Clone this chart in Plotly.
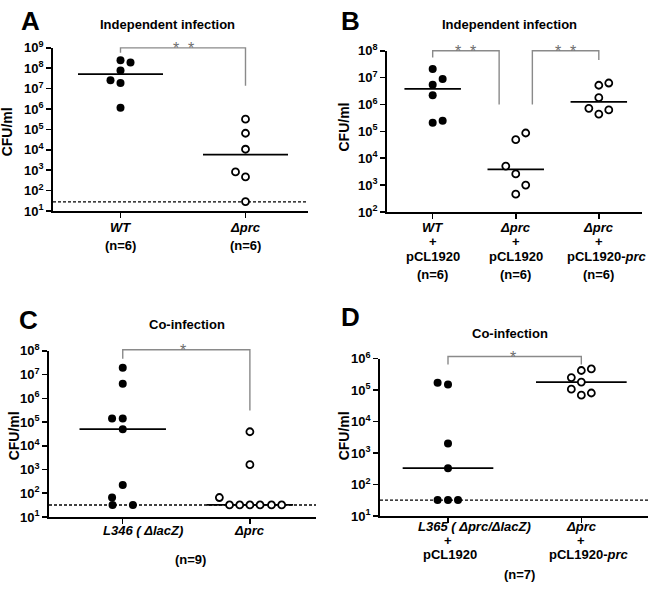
import numpy as np
import plotly.graph_objects as go

W, H = 650, 591
FONT = "Liberation Sans, Arial, sans-serif"

# ---------------- data ----------------
# Panel A - independent infection
a_labels = [["<i>WT</i>", "(n=6)"], ["<i>Δprc</i>", "(n=6)"]]
a_wt = [2.5e8, 1.9e8, 7.8e7, 2.6e7, 1.9e7, 1.15e6]
a_wt_jitter = [0, 0.08, 0, -0.08, 0, 0]
a_prc = [3.2e5, 6.5e4, 1.07e4, 830, 470, 29]
a_prc_jitter = [0, 0, 0, -0.08, 0, 0]
a_lod = 28
a_decades = list(range(1, 10))

# Panel B - independent infection with plasmids
b_labels = [["<i>WT</i>", "+", "pCL1920", "(n=6)"],
            ["<i>Δprc</i>", "+", "pCL1920", "(n=6)"],
            ["<i>Δprc</i>", "+", "pCL1920-<i>prc</i>", "(n=6)"]]
b_wt = [2.1e7, 8.9e6, 5.4e6, 2.2e6, 2.5e5, 2.1e5]
b_wt_jitter = [0, 0.12, 0, 0, 0.12, 0]
b_prc = [8.7e4, 4.9e4, 5.1e3, 2.6e3, 1.0e3, 460]
b_prc_jitter = [0.12, 0, -0.12, 0, 0.12, 0]
b_comp = [6.3e6, 5.2e6, 1.8e6, 7.2e5, 6.3e5, 4.4e5]
b_comp_jitter = [0.12, 0, 0, -0.12, 0.12, 0]
b_decades = list(range(2, 9))

# Panel C - co-infection
c_labels = [["<i>L346 ( ΔlacZ)</i>"], ["<i>Δprc</i>"]]
c_l346 = [1.96e7, 4.1e6, 1.4e5, 1.4e5, 5.0e4, 224, 66, 32, 32]
c_l346_jitter = [0, 0, -0.084, 0, 0, 0, -0.084, -0.08, 0.08]
c_prc = [3.9e4, 1.6e3, 66, 32, 32, 32, 32, 32, 32]
c_prc_jitter = [0, 0, -0.24, -0.16, -0.08, 0, 0.08, 0.17, 0.25]
c_lod = 32
c_decades = list(range(1, 9))
c_n = "(n=9)"

# Panel D - co-infection with plasmids
d_labels = [["<i>L365 ( Δprc/ΔlacZ)</i>", "+", "pCL1920"],
            ["<i>Δprc</i>", "+", "pCL1920-<i>prc</i>"]]
d_l365 = [1.7e5, 1.5e5, 2.0e3, 330, 32, 32, 32]
d_l365_jitter = [-0.078, 0, 0, 0, -0.078, 0, 0.075]
d_comp = [4.7e5, 4.2e5, 2.5e5, 1.8e5, 1.07e5, 8.1e4, 6.9e4]
d_comp_jitter = [0.075, 0, -0.075, 0, -0.075, 0.075, 0]
d_lod = 32
d_decades = list(range(1, 7))
d_n = "(n=7)"

# ---------------- figure ----------------
fig = go.Figure()


def px_x(x):
    return x / W


def px_y(y):
    return 1 - y / H


def add_group(ax, idx, vals, jit, filled):
    med = float(np.median(vals))
    fig.add_trace(go.Scatter(
        x=[idx - 0.34, idx + 0.34], y=[med, med], mode="lines",
        line=dict(color="black", width=1.8), xaxis="x" + ax, yaxis="y" + ax,
        hoverinfo="skip"))
    xs = [idx + j for j in jit]
    fig.add_trace(go.Scatter(
        x=xs, y=vals, mode="markers", xaxis="x" + ax, yaxis="y" + ax,
        cliponaxis=False,
        marker=dict(size=8 if filled else 7,
                    color="black" if filled else "white",
                    line=dict(color="black", width=0 if filled else 1.8))))


def add_lod(ax, xr, lod):
    fig.add_trace(go.Scatter(
        x=[xr[0], xr[1]], y=[lod, lod], mode="lines",
        line=dict(color="black", width=1.4, dash="3px,2px"),
        xaxis="x" + ax, yaxis="y" + ax, hoverinfo="skip", cliponaxis=False))


def add_bracket(ax, yr, x0, x1, top, yl, yr_leg, star, sx):
    # y given in log10 units, converted to the axis domain fraction
    def frac(v):
        return (v - yr[0]) / (yr[1] - yr[0])
    path = "M %f,%f L %f,%f L %f,%f L %f,%f" % (
        x0, frac(yl), x0, frac(top), x1, frac(top), x1, frac(yr_leg))
    fig.add_shape(type="path", path=path, xref="x" + ax,
                  yref=("y" + ax + " domain"),
                  line=dict(color="#8a8a8a", width=1.4))
    fig.add_annotation(x=sx, y=frac(top), xref="x" + ax,
                       yref=("y" + ax + " domain"),
                       text=star, showarrow=False, yanchor="middle", yshift=-1,
                       font=dict(family=FONT, size=16, color="#6e6e6e"))


def style_axes(ax, xdom, ydom, xr, yr, ncat, decades):
    xa = "xaxis" + ax
    ya = "yaxis" + ax
    fig.layout[xa] = dict(
        domain=xdom, range=xr, anchor="y" + ax, showgrid=False, zeroline=False,
        showline=True, linecolor="black", linewidth=1.8,
        tickvals=list(range(ncat)), showticklabels=False,
        ticks="outside", ticklen=5, tickwidth=1.5, tickcolor="black")
    fig.layout[ya] = dict(
        domain=ydom, range=yr, type="log", anchor="x" + ax, showgrid=False,
        zeroline=False, showline=True, linecolor="black", linewidth=1.8,
        tickvals=[10 ** k for k in decades],
        ticktext=["10<sup>%d</sup>" % k for k in decades],
        ticks="outside", ticklen=5, tickwidth=1.5, tickcolor="black",
        tickfont=dict(family=FONT, size=13, color="black", weight="bold"))


def add_xlabels(ax, labels, rows_px, shifts=None):
    for i, lines in enumerate(labels):
        for j, (line, ypx) in enumerate(zip(lines, rows_px)):
            dx = shifts[i][j] if shifts else 0
            fig.add_annotation(x=i, y=px_y(ypx), xref="x" + ax, yref="paper",
                               text=line, showarrow=False, xshift=dx,
                               xanchor="center", yanchor="middle",
                               font=dict(family=FONT, size=13, color="black",
                                         weight="bold"))


# Panel A
a_xr, a_yr = [-0.54, 1.5], [1, 9]
style_axes("", [px_x(53), px_x(308)], [px_y(208), px_y(40)], a_xr, a_yr,
           len(a_labels), a_decades)
add_lod("", a_xr, a_lod)
add_group("", 0, a_wt, a_wt_jitter, True)
add_group("", 1, a_prc, a_prc_jitter, False)
add_bracket("", a_yr, 0, 1, 9.0, 8.76, 7.14, "*  *", 0.5)
add_xlabels("", a_labels, [225, 244])

# Panel B
b_xr, b_yr = [-0.55, 2.52], [2, 8]
style_axes("2", [px_x(387), px_x(642)], [px_y(209), px_y(43)], b_xr, b_yr,
           len(b_labels), b_decades)
add_group("2", 0, b_wt, b_wt_jitter, True)
add_group("2", 1, b_prc, b_prc_jitter, False)
add_group("2", 2, b_comp, b_comp_jitter, False)
add_bracket("2", b_yr, 0, 0.8, 8.0, 7.75, 6.0, "*  *", 0.4)
add_bracket("2", b_yr, 1.2, 2.0, 8.0, 6.0, 7.66, "*  *", 1.6)
add_xlabels("2", b_labels, [225, 239.5, 255, 273.5],
            [[0, 0, 0, 0], [0, 0, 0, 0], [0, 0, 8, 0]])

# Panel C
c_xr, c_yr = [-0.58, 1.52], [1, 8]
style_axes("3", [px_x(49), px_x(316)], [px_y(523), px_y(352)], c_xr, c_yr,
           len(c_labels), c_decades)
add_lod("3", c_xr, c_lod)
add_group("3", 0, c_l346, c_l346_jitter, True)
add_group("3", 1, c_prc, c_prc_jitter, False)
add_bracket("3", c_yr, 0, 1, 8.05, 7.67, 5.49, "*", 0.47)
add_xlabels("3", c_labels, [537], [[20], [0]])

# Panel D
d_xr, d_yr = [-0.51, 1.5], [1, 6]
style_axes("4", [px_x(380), px_x(648)], [px_y(522), px_y(360)], d_xr, d_yr,
           len(d_labels), d_decades)
add_lod("4", d_xr, d_lod)
add_group("4", 0, d_l365, d_l365_jitter, True)
add_group("4", 1, d_comp, d_comp_jitter, False)
add_bracket("4", d_yr, 0, 1, 6.07, 5.81, 5.81, "*", 0.49)
add_xlabels("4", d_labels, [533, 547.5, 562], [[26, 0, 2], [0, 0, 8]])


# Text annotations (panel letters, titles, y titles, n labels)
def txt(x, y, s, size=13, angle=0):
    fig.add_annotation(x=px_x(x), y=px_y(y), xref="paper", yref="paper",
                       text=s, showarrow=False, textangle=angle,
                       xanchor="center", yanchor="middle",
                       font=dict(family=FONT, size=size, color="black",
                                 weight="bold"))


txt(30, 12, "A", 26)
txt(350, 12, "B", 26)
txt(29, 320, "C", 26)
txt(350, 317, "D", 26)
txt(167, 16, "Independent infection", 13)
txt(509, 16, "Independent infection", 13)
txt(187, 325, "Co-infection", 13)
txt(510, 334, "Co-infection", 13)
txt(7, 127, "CFU/ml", 14, -90)
txt(344, 122, "CFU/ml", 14, -90)
txt(14, 440, "CFU/ml", 14, -90)
txt(344, 440, "CFU/ml", 14, -90)
txt(190, 567, c_n, 13)
txt(519, 582, d_n, 13)

fig.update_layout(
    width=W, height=H, margin=dict(l=0, r=0, t=0, b=0),
    paper_bgcolor="white", plot_bgcolor="white", showlegend=False,
)

# remove the browser's default 8px body margin so the figure fills the window
fig.write_html("out.html",
               config={"displayModeBar": False, "staticPlot": True},
               post_script="document.body.style.margin='0';"
                           "document.body.style.overflow='hidden';")
